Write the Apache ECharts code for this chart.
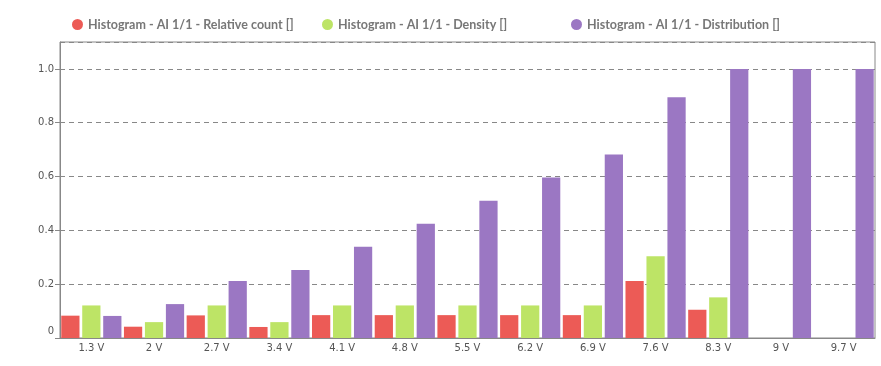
<!DOCTYPE html>
<html>
<head>
<meta charset="utf-8">
<script src="https://cdn.jsdelivr.net/npm/echarts@6/dist/echarts.min.js"></script>
<style>html,body{margin:0;padding:0;background:#fff}#c{width:881px;height:366px}</style>
</head>
<body>
<div id="c"></div>
<script>
const categories = ['1.3 V','2 V','2.7 V','3.4 V','4.1 V','4.8 V','5.5 V','6.2 V','6.9 V','7.6 V','8.3 V','9 V','9.7 V'];
const relativeCount = [0.083, 0.042, 0.084, 0.041, 0.085, 0.085, 0.085, 0.085, 0.085, 0.212, 0.105, 0, 0];
const density = [0.121, 0.059, 0.121, 0.059, 0.121, 0.121, 0.121, 0.121, 0.121, 0.304, 0.151, 0, 0];
const distribution = [0.082, 0.126, 0.212, 0.253, 0.339, 0.425, 0.510, 0.596, 0.682, 0.895, 1.0, 1.0, 1.0];
const seriesNames = ['Histogram - AI 1/1 - Relative count []','Histogram - AI 1/1 - Density []','Histogram - AI 1/1 - Distribution []'];
const colors = ['#EC5B56','#BDE466','#9B77C3'];

const chart = echarts.init(document.getElementById('c'), null, {renderer:'canvas'});
const legendBase = {
  top: 13, icon: 'circle', itemWidth: 11, itemHeight: 11,
  textStyle: {fontFamily: 'Lato', fontWeight: 'bold', fontSize: 12.5, color: '#777'}
};
const legendLefts = [67, 317, 566];
chart.setOption({
  animation: false,
  color: colors,
  legend: seriesNames.map((n,i)=>Object.assign({}, legendBase, {left: legendLefts[i], data:[n]})),
  grid: {left: 60, right: 6, top: 42, bottom: 28, show: true, borderColor: '#888', borderWidth: 1},
  xAxis: {
    type: 'category', data: categories,
    axisLine: {lineStyle: {color: '#888'}},
    axisTick: {length: 6, lineStyle: {color: '#888'}},
    axisLabel: {margin: 5, fontFamily: 'DejaVu Sans', fontSize: 10, color: '#555'}
  },
  yAxis: {
    type: 'value', min: 0, max: 1.1, interval: 0.2,
    axisLine: {show: true, lineStyle: {color: '#888'}},
    axisTick: {show: true, length: 5, lineStyle: {color: '#888'}},
    splitLine: {lineStyle: {color: '#888', type: [5,4]}},
    axisLabel: {
      margin: 6, fontFamily: 'DejaVu Sans', fontSize: 10, color: '#555', showMaxLabel: false,
      formatter: v => v === 0 ? '{z|0}' : v.toFixed(1),
      rich: {z: {fontFamily: 'DejaVu Sans', fontSize: 10, color: '#555', padding: [0,0,14,0]}}
    }
  },
  series: [
    {name: seriesNames[0], type: 'bar', data: relativeCount, barGap: '15%', barCategoryGap: '4%'},
    {name: seriesNames[1], type: 'bar', data: density, barGap: '15%', barCategoryGap: '4%'},
    {name: seriesNames[2], type: 'bar', data: distribution, barGap: '15%', barCategoryGap: '4%'}
  ]
});
</script>
</body>
</html>
